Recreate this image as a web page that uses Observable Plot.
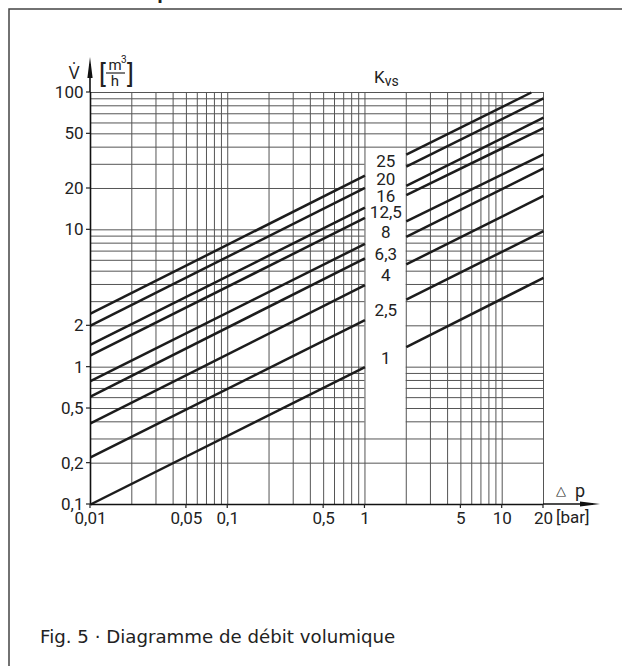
<!DOCTYPE html>
<html>
<head>
<meta charset="utf-8">
<script src="https://cdn.jsdelivr.net/npm/d3@7"></script>
<script src="https://cdn.jsdelivr.net/npm/@observablehq/plot@0.6"></script>
<style>
  html, body { margin: 0; padding: 0; background: white; }
  #chart { position: relative; width: 622px; height: 666px; overflow: hidden; }
  svg { display: block; }
</style>
</head>
<body>
<div id="chart"></div>
<script>
// ---- data ----
const kvsLabels = ["25", "20", "16", "12,5", "8", "6,3", "4", "2,5", "1"];
// flow at Δp = 0.01 bar (left end of left segment)
const vAt001 = [2.45, 2.01, 1.46, 1.22, 0.79, 0.61, 0.39, 0.22, 0.1];
// flow at Δp = 1 bar (right end of left segment)
const vAt1 = [24.8, 20.2, 14.5, 12.2, 7.9, 6.2, 3.95, 2.2, 1.0];
// flow at Δp = 2 bar (left end of right segment)
const vAt2 = [35.3, 28.8, 20.9, 17.9, 11.5, 8.9, 5.6, 3.1, 1.4];
// right end of right segment
const endDp = [16.3, 20, 20, 20, 20, 20, 20, 20, 20];
const vEnd = [100, 90.5, 65.5, 55, 35.5, 28, 17.7, 9.8, 4.47];
// label placement (value on the flow axis, inside the white band)
const labelDp = 1.42;
const labelV = [31, 23.1, 17.4, 13.2, 9.4, 6.57, 4.62, 2.56, 1.14];
// white band behind the labels
const bandDp = [1, 2];
const bandV = [0.32, 39];
// grid & ticks
const xGrid = [0.01, 0.02, 0.03, 0.04, 0.05, 0.06, 0.07, 0.08, 0.09,
               0.1, 0.2, 0.3, 0.4, 0.5, 0.6, 0.7, 0.8, 0.9,
               1, 2, 3, 4, 5, 6, 7, 8, 9, 10, 20];
const yGrid = [0.1, 0.2, 0.3, 0.4, 0.5, 0.6, 0.7, 0.8, 0.9,
               1, 2, 3, 4, 5, 6, 7, 8, 9,
               10, 20, 30, 40, 50, 60, 70, 80, 90, 100];
const xTicks = [0.01, 0.05, 0.1, 0.5, 1, 5, 10, 20];
const yTicks = [0.1, 0.2, 0.5, 1, 2, 10, 20, 50, 100];

const fmt = d => String(d).replace(".", ",");
const FONT = "Roboto, 'Open Sans', sans-serif";

const leftSegs = kvsLabels.map((k, i) => ({x1: 0.01, y1: vAt001[i], x2: 1, y2: vAt1[i]}));
const rightSegs = kvsLabels.map((k, i) => ({x1: 2, y1: vAt2[i], x2: endDp[i], y2: vEnd[i]}));
const labels = kvsLabels.map((k, i) => ({x: labelDp, y: labelV[i], t: k}));

const plot = Plot.plot({
  width: 622, height: 666,
  marginLeft: 90, marginRight: 79, marginTop: 92, marginBottom: 162,
  x: {type: "log", domain: [0.01, 20], axis: null},
  y: {type: "log", domain: [0.1, 100], axis: null},
  style: {fontFamily: FONT, fontSize: "17px", color: "#222", background: "white", overflow: "visible"},
  marks: [
    Plot.ruleY(yGrid, {stroke: "#555", strokeWidth: 1}),
    Plot.rect([0], {x1: () => bandDp[0], x2: () => bandDp[1], y1: () => bandV[0], y2: () => bandV[1], fill: "white"}),
    Plot.ruleX(xGrid, {stroke: "#555", strokeWidth: 1}),
    Plot.link(leftSegs, {x1: "x1", y1: "y1", x2: "x2", y2: "y2", stroke: "#1c1c1c", strokeWidth: 2.5}),
    Plot.link(rightSegs, {x1: "x1", y1: "y1", x2: "x2", y2: "y2", stroke: "#1c1c1c", strokeWidth: 2.5}),
    Plot.text(labels, {x: "x", y: "y", text: "t", fontSize: 17, lineHeight: 0.9, fill: "#222"}),
    // x labels
    Plot.text(xTicks, {x: d => d, y: () => 0.1, text: fmt, dy: 14, fontSize: 17, fill: "#222"}),
    // y labels
    Plot.text(yTicks, {x: () => 0.01, y: d => d, text: fmt, dx: -7, textAnchor: "end", fontSize: 17, fill: "#222"}),
    Plot.ruleX([0.01], {stroke: "#111", strokeWidth: 1.6}),
    Plot.ruleY([0.1], {stroke: "#111", strokeWidth: 1.6})
  ]
});
document.getElementById("chart").appendChild(plot);

// ---- decorations (frame, arrows, tick stubs, unit labels, caption) ----
const svg = d3.select(plot);
const sx = plot.scale("x"), sy = plot.scale("y");
const x0 = sx.apply(0.01), xEnd = sx.apply(20);
const y0 = sy.apply(0.1), yTop = sy.apply(100);

// small tick stubs (positions through the plot scales)
xTicks.forEach(v => svg.append("line").attr("x1", sx.apply(v)).attr("x2", sx.apply(v))
  .attr("y1", y0).attr("y2", y0 + 4).attr("stroke", "#222").attr("stroke-width", 1.2));
yTicks.forEach(v => svg.append("line").attr("x1", x0 - 4).attr("x2", x0)
  .attr("y1", sy.apply(v)).attr("y2", sy.apply(v)).attr("stroke", "#222").attr("stroke-width", 1.2));

// frame
svg.append("path").attr("d", `M9,${666 + 5} V9 H${622 + 5}`)
  .attr("fill", "none").attr("stroke", "#444").attr("stroke-width", 1.5);

// clipped title at the very top (only descenders visible, as in the reference)
svg.append("text").attr("x", 0).attr("y", -1)
  .attr("font-family", FONT).attr("font-weight", "bold").attr("font-size", 20).attr("fill", "#222")
  .text("Figure 5 · Diagramme de débit volumique");

// y axis arrow
svg.append("line").attr("x1", x0).attr("x2", x0).attr("y1", yTop).attr("y2", yTop - 28)
  .attr("stroke", "#111").attr("stroke-width", 1.6);
svg.append("path").attr("d", `M${x0},${yTop - 35} L${x0 + 2.6},${yTop - 14} L${x0 - 2.6},${yTop - 14} Z`).attr("fill", "#111");

// x axis arrow
svg.append("line").attr("x1", xEnd).attr("x2", xEnd + 50).attr("y1", y0).attr("y2", y0)
  .attr("stroke", "#111").attr("stroke-width", 1.6);
svg.append("path").attr("d", `M${xEnd + 57},${y0} L${xEnd + 37},${y0 - 2.6} L${xEnd + 37},${y0 + 2.6} Z`).attr("fill", "#111");

const t = (x, y, s, opts = {}) => svg.append("text").attr("x", x).attr("y", y)
  .attr("font-family", opts.font || FONT).attr("font-size", opts.size || 17).attr("fill", "#222")
  .attr("text-anchor", opts.anchor || "start").text(s);

// V dot
t(x0 - 16, yTop - 13, "V̇", {anchor: "middle", size: 18});
// [m3/h]
t(x0 + 9, yTop - 9, "[", {size: 26});
t(x0 + 25, yTop - 22, "m", {anchor: "middle", size: 15});
t(x0 + 31, yTop - 29, "3", {size: 10});
svg.append("line").attr("x1", x0 + 16).attr("x2", x0 + 35).attr("y1", yTop - 19).attr("y2", yTop - 19)
  .attr("stroke", "#222").attr("stroke-width", 1.2);
t(x0 + 25, yTop - 6, "h", {anchor: "middle", size: 15});
t(x0 + 37, yTop - 9, "]", {size: 26});

// Kvs, centred over the label column
const kx = sx.apply(labelDp);
const kt = svg.append("text").attr("x", kx + 1).attr("y", yTop - 9).attr("text-anchor", "middle")
  .attr("font-family", FONT).attr("font-size", 17).attr("fill", "#222");
kt.append("tspan").text("K");
kt.append("tspan").attr("dy", 3).attr("font-size", 14).text("vs");

// Δp and [bar]
t(xEnd + 13, y0 - 9, "△", {size: 13});
t(xEnd + 32, y0 - 7, "p", {size: 18});
t(xEnd + 13, y0 + 19, "[bar]", {size: 17});

// caption
t(40, 643, "Fig. 5 · Diagramme de débit volumique", {size: 18.2, font: "'DejaVu Sans', sans-serif"});
</script>
</body>
</html>
